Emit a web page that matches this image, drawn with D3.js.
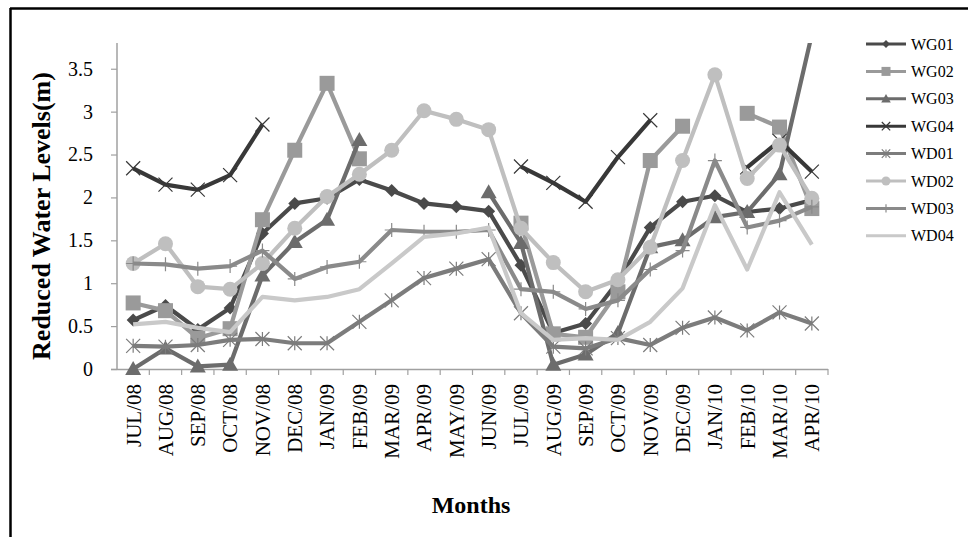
<!DOCTYPE html>
<html>
<head>
<meta charset="utf-8">
<script src="https://cdn.jsdelivr.net/npm/d3@7"></script>
<style>
  html, body { margin: 0; padding: 0; background: #fff; }
  svg { display: block; }
  text { font-family: "Liberation Serif", "Times New Roman", serif; fill: #000; }
</style>
</head>
<body>
<svg id="chart" width="968" height="537"></svg>
<script>
// Monthly reduced water levels (m) at eight wells, Jul 2008 – Apr 2010
const months = ["JUL/08","AUG/08","SEP/08","OCT/08","NOV/08","DEC/08","JAN/09","FEB/09",
  "MAR/09","APR/09","MAY/09","JUN/09","JUL/09","AUG/09","SEP/09","OCT/09","NOV/09",
  "DEC/09","JAN/10","FEB/10","MAR/10","APR/10"];

const yTicks = [0, 0.5, 1, 1.5, 2, 2.5, 3, 3.5];

const WG01 = [0.57,0.74,0.46,0.71,1.58,1.93,1.99,2.21,2.08,1.93,1.89,1.84,1.21,0.42,0.53,1.02,1.65,1.95,2.02,1.83,1.87,1.97];
const WG02 = [0.77,0.68,0.36,0.47,1.74,2.55,3.33,2.45,null,null,null,null,1.70,0.41,0.37,0.90,2.43,2.83,null,2.98,2.82,1.87];
const WG03 = [0.00,0.24,0.03,0.05,1.09,1.48,1.74,2.67,null,null,null,2.06,1.47,0.05,0.17,0.42,1.42,1.50,1.77,1.83,2.27,3.90];
const WG04 = [2.34,2.15,2.09,2.26,2.85,null,null,null,null,null,null,null,2.36,2.17,1.95,2.47,2.90,null,null,2.35,2.66,2.30];
const WD01 = [0.27,0.26,0.28,0.34,0.35,0.30,0.30,0.55,0.80,1.06,1.17,1.28,0.65,0.26,0.24,0.36,0.28,0.48,0.60,0.45,0.66,0.53];
const WD02 = [1.23,1.46,0.96,0.93,1.23,1.64,2.01,2.27,2.55,3.01,2.91,2.79,1.64,1.24,0.90,1.04,1.42,2.43,3.43,2.22,2.61,1.99];
const WD03 = [1.23,1.22,1.17,1.20,1.38,1.05,1.19,1.25,1.62,1.60,1.60,1.62,0.93,0.90,0.70,0.80,1.16,1.38,2.43,1.65,1.73,1.89];
const WD04 = [0.52,0.55,0.48,0.43,0.84,0.80,0.84,0.93,1.23,1.54,1.58,1.65,0.65,0.34,0.36,0.34,0.55,0.94,1.91,1.16,2.06,1.45];

const seriesNames = ["WG01","WG02","WG03","WG04","WD01","WD02","WD03","WD04"];
const seriesValues = [WG01, WG02, WG03, WG04, WD01, WD02, WD03, WD04];

// Styling per series: stroke colour and marker type
const styles = {
  WG01: { color: "#4a4a4a", marker: "diamond" },
  WG02: { color: "#9a9a9a", marker: "square" },
  WG03: { color: "#6c6c6c", marker: "triangle" },
  WG04: { color: "#383838", marker: "x" },
  WD01: { color: "#7c7c7c", marker: "asterisk" },
  WD02: { color: "#bfbfbf", marker: "circle" },
  WD03: { color: "#8a8a8a", marker: "plus" },
  WD04: { color: "#c9c9c9", marker: "none" }
};

const svg = d3.select("#chart");

// Outer frame (top and left edges)
svg.append("line").attr("x1", 10).attr("y1", 8.5).attr("x2", 968).attr("y2", 8.5)
  .attr("stroke", "#000").attr("stroke-width", 2.5);
svg.append("line").attr("x1", 10.5).attr("y1", 8).attr("x2", 10.5).attr("y2", 537)
  .attr("stroke", "#000").attr("stroke-width", 2.5);

const plot = { left: 117, right: 828, top: 43, bottom: 369 };

const x = d3.scaleBand().domain(months).range([plot.left, plot.right]);
const y = d3.scaleLinear().domain([0, 3.8]).range([plot.bottom, plot.top]);
const cx = m => x(m) + x.bandwidth() / 2;

const axisColor = "#a0a0a0";

// Y axis
const yAxis = svg.append("g")
  .attr("transform", `translate(${plot.left},0)`)
  .call(d3.axisLeft(y).tickValues(yTicks).tickSize(6).tickPadding(18).tickFormat(d => String(d)));
yAxis.select(".domain").remove();
yAxis.selectAll(".tick line").attr("stroke", axisColor).attr("stroke-width", 1.2);
yAxis.selectAll(".tick text").style("font-size", "20px").attr("fill", "#000");
svg.append("line").attr("x1", plot.left).attr("x2", plot.left)
  .attr("y1", plot.top).attr("y2", plot.bottom + 0.5)
  .attr("stroke", axisColor).attr("stroke-width", 1.5);

// X axis: labels at category centres, tick marks at category boundaries
const xAxis = svg.append("g")
  .attr("transform", `translate(0,${plot.bottom})`)
  .call(d3.axisBottom(x).tickSize(0).tickPadding(0));
xAxis.select(".domain").remove();
xAxis.selectAll(".tick text")
  .style("font-size", "21px")
  .attr("text-anchor", "end")
  .attr("dy", "0.35em")
  .attr("transform", "translate(0,15) rotate(-90)")
  .attr("x", 0).attr("y", 0);
svg.append("line").attr("x1", plot.left - 6).attr("x2", plot.right)
  .attr("y1", plot.bottom + 0.5).attr("y2", plot.bottom + 0.5)
  .attr("stroke", axisColor).attr("stroke-width", 1.5);
svg.append("g").selectAll("line").data(months).join("line")
  .attr("x1", m => x(m) + x.bandwidth()).attr("x2", m => x(m) + x.bandwidth())
  .attr("y1", plot.bottom).attr("y2", plot.bottom + 6)
  .attr("stroke", axisColor).attr("stroke-width", 1.2);

// Axis titles
svg.append("text")
  .attr("transform", `translate(50,${(plot.top + plot.bottom) / 2 + 10}) rotate(-90)`)
  .attr("text-anchor", "middle")
  .style("font-size", "26px").style("font-weight", "bold")
  .text("Reduced Water Levels(m)");
svg.append("text")
  .attr("x", 471).attr("y", 513)
  .attr("text-anchor", "middle")
  .style("font-size", "24px").style("font-weight", "bold")
  .text("Months");

// Clip region for the plot
svg.append("clipPath").attr("id", "plotClip")
  .append("rect").attr("x", plot.left).attr("y", plot.top)
  .attr("width", plot.right - plot.left + 20).attr("height", plot.bottom - plot.top + 20);

// Marker drawing helper
function drawMarker(g, type, color, px, py, scale) {
  const s = scale || 1;
  if (type === "diamond") {
    const r = 6.5 * s;
    g.append("path").attr("d", `M${px},${py - r}L${px + r},${py}L${px},${py + r}L${px - r},${py}Z`).attr("fill", color);
  } else if (type === "square") {
    const h = 7.5 * s;
    g.append("rect").attr("x", px - h).attr("y", py - h).attr("width", 2 * h).attr("height", 2 * h).attr("fill", color);
  } else if (type === "triangle") {
    const h = 8 * s;
    g.append("path").attr("d", `M${px},${py - h}L${px + h},${py + h * 0.75}L${px - h},${py + h * 0.75}Z`).attr("fill", color);
  } else if (type === "circle") {
    g.append("circle").attr("cx", px).attr("cy", py).attr("r", 7.5 * s).attr("fill", color);
  } else if (type === "x") {
    const r = 7 * s;
    g.append("path").attr("d", `M${px - r},${py - r}L${px + r},${py + r}M${px - r},${py + r}L${px + r},${py - r}`)
      .attr("stroke", color).attr("stroke-width", 1.2).attr("fill", "none");
  } else if (type === "asterisk") {
    const r = 7 * s;
    g.append("path").attr("d", `M${px - r},${py - r}L${px + r},${py + r}M${px - r},${py + r}L${px + r},${py - r}M${px},${py - r}L${px},${py + r}`)
      .attr("stroke", color).attr("stroke-width", 1.2).attr("fill", "none");
  } else if (type === "plus") {
    const r = 7 * s;
    g.append("path").attr("d", `M${px - r},${py}L${px + r},${py}M${px},${py - r}L${px},${py + r}`)
      .attr("stroke", color).attr("stroke-width", 1.2).attr("fill", "none");
  }
}

const lineGen = d3.line()
  .defined(d => d.v !== null)
  .x(d => cx(d.m))
  .y(d => y(d.v));

const plotG = svg.append("g").attr("clip-path", "url(#plotClip)");

seriesNames.forEach((name, i) => {
  const st = styles[name];
  const pts = months.map((m, j) => ({ m, v: seriesValues[i][j] }));
  const g = plotG.append("g");
  g.append("path").datum(pts)
    .attr("d", lineGen)
    .attr("fill", "none")
    .attr("stroke", st.color)
    .attr("stroke-width", 4.2)
    .attr("stroke-linejoin", "round");
  pts.filter(d => d.v !== null).forEach(d => drawMarker(g, st.marker, st.color, cx(d.m), y(d.v), 1));
});

// Legend
const legend = svg.append("g");
seriesNames.forEach((name, i) => {
  const st = styles[name];
  const ly = 44 + i * 27.4;
  const g = legend.append("g");
  g.append("line").attr("x1", 866).attr("x2", 906).attr("y1", ly).attr("y2", ly)
    .attr("stroke", st.color).attr("stroke-width", 3);
  drawMarker(g, st.marker, st.color, 886, ly, 0.6);
  g.append("text").attr("x", 911).attr("y", ly).attr("dy", "0.35em")
    .style("font-size", "16px").text(name);
});
</script>
</body>
</html>
